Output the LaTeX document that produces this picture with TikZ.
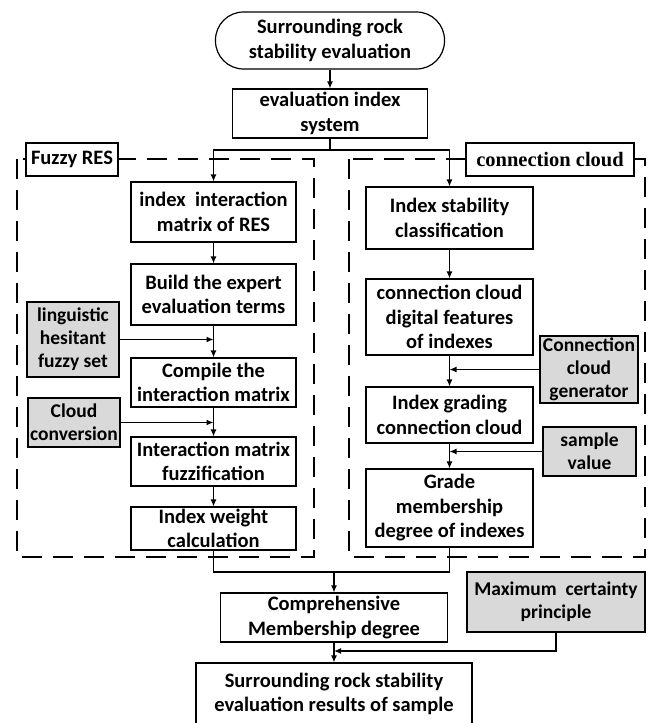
\documentclass[tikz,border=0pt]{standalone}
\usepackage{fontspec}
\setmainfont{Carlito}
\newfontfamily\serifbold{Liberation Serif}
\usetikzlibrary{arrows.meta}
\tikzset{
  box/.style={draw, line width=1.2pt, fill=white, align=center, inner sep=0pt,
    font=\bfseries\fontsize{20.5}{24.5}\selectfont},
  graybox/.style={box, fill=gray!30, font=\bfseries\fontsize{19.5}{23}\selectfont},
  roundbox/.style={box, rounded corners=28pt},
  dashbox/.style={draw, line width=1.2pt, dash pattern=on 20pt off 11pt},
  conn/.style={line width=1.2pt},
  arr/.style={conn, -{Latex[length=7pt,width=6pt]}}
}
\begin{document}
\begin{tikzpicture}[x=1pt,y=-1pt]
\useasboundingbox (0,0) rectangle (651,723);
\clip (0,0) rectangle (651,723);
% dashed group frames
\draw[dashbox] (17,159) rectangle (314,557);
\draw[dashbox] (349,159) rectangle (645,557);
\node[box, minimum width=92pt, minimum height=33pt] (lblL) at (72,159.5) {Fuzzy RES};
\node[box, minimum width=168pt, minimum height=33pt, font=\serifbold\bfseries\fontsize{20.5}{24.5}\selectfont] (lblR) at (550,159.5) {connection cloud};
% top
\node[roundbox, minimum width=229pt, minimum height=57pt] (top) at (330,40.5) {Surrounding rock\\stability evaluation};
\node[box, minimum width=195pt, minimum height=49pt] (eval) at (330,113.5) {evaluation index\\system};
% left column
\node[box, minimum width=165pt, minimum height=60pt] (L1) at (213.5,212) {index\ \ interaction\\matrix of RES};
\node[box, minimum width=165pt, minimum height=61pt] (L2) at (213.5,294.5) {Build the expert\\evaluation terms};
\node[box, minimum width=165pt, minimum height=49pt] (L3) at (213.5,382.5) {Compile the\\interaction matrix};
\node[box, minimum width=165pt, minimum height=49pt] (L4) at (213.5,461.5) {Interaction matrix\\fuzzification};
\node[box, minimum width=165pt, minimum height=43pt] (L5) at (213.5,528.5) {Index weight\\calculation};
\node[graybox, minimum width=92pt, minimum height=75pt] (G1) at (73,339.5) {linguistic\\hesitant\\fuzzy set};
\node[graybox, minimum width=92pt, minimum height=49pt] (G2) at (74,422.5) {Cloud\\conversion};
% right column
\node[box, minimum width=167pt, minimum height=62pt] (R1) at (449.5,218) {Index stability\\classification};
\node[box, minimum width=167pt, minimum height=76pt] (R2) at (449.5,317) {connection cloud\\digital features\\of indexes};
\node[box, minimum width=167pt, minimum height=56pt] (R3) at (449.5,415) {Index grading\\connection cloud};
\node[box, minimum width=167pt, minimum height=78pt] (R4) at (449.5,508) {Grade\\membership\\degree of indexes};
\node[graybox, minimum width=98pt, minimum height=67pt] (G3) at (589,369.5) {Connection\\cloud\\generator};
\node[graybox, minimum width=93pt, minimum height=49pt] (G4) at (589.5,451.5) {sample\\value};
% bottom
\node[box, minimum width=227pt, minimum height=49pt] (comp) at (334,617.5) {Comprehensive\\Membership degree};
\node[graybox, minimum width=178pt, minimum height=60pt] (max) at (556,602) {Maximum\ \ certainty\\principle};
\node[box, minimum width=276pt, minimum height=62pt] (final) at (334,694) {Surrounding rock stability\\evaluation results of sample};
% connectors
\coordinate (jt) at (330,150);
\coordinate (jb) at (334,572);
\coordinate (jm) at (334,651);
\draw[arr] (top) -- (eval);
\draw[conn] (eval.south) -- (jt);
\draw[arr] (jt) -| (L1.north);
\draw[arr] (jt) -| (R1.north);
\draw[arr] (L1) -- (L2);
\draw[arr] (L2) -- (L3);
\draw[arr] (L3) -- (L4);
\draw[arr] (L4) -- (L5);
\draw[arr] (G1.east) -- (G1.east -| L3.north);
\draw[arr] (G2.east) -- (G2.east -| L4.north);
\draw[arr] (R1) -- (R2);
\draw[arr] (R2) -- (R3);
\draw[arr] (R3) -- (R4);
\draw[arr] (G3.west) -- (G3.west -| R3.north);
\draw[arr] (G4.west) -- (G4.west -| R4.north);
\draw[conn] (L5.south) |- (jb);
\draw[conn] (R4.south) |- (jb);
\draw[arr] (jb) -- (comp.north);
\draw[arr] (comp) -- (final);
\draw[arr] (max.south) |- (jm);
\end{tikzpicture}
\end{document}
